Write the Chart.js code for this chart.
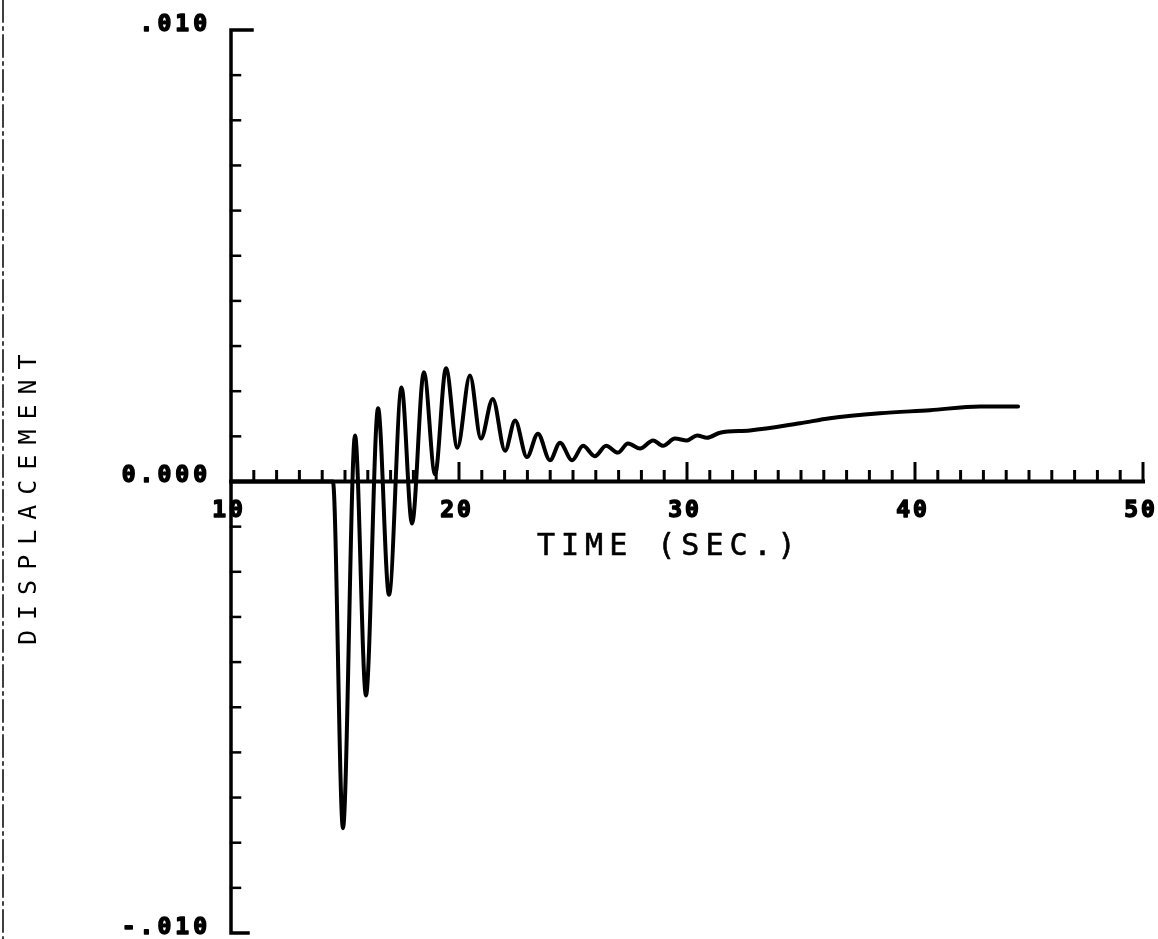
<!DOCTYPE html>
<html>
<head>
<meta charset="utf-8">
<script src="https://cdn.jsdelivr.net/npm/chart.js@4"></script>
<style>
    html, body { margin: 0; padding: 0; background: #fff; }
    #wrap { width: 1158px; height: 939px; }
</style>
</head>
<body>
<div id="wrap"><canvas id="dispChart" width="1158" height="939"></canvas></div>
<script>
// time (sec) and displacement
const timeValues = [
    10, 14.47, 14.91, 15.44, 15.92, 16.45, 16.93, 17.48, 17.94, 18.46,
    18.95, 19.43, 19.93, 20.48, 20.96, 21.48, 22.02, 22.46, 22.98, 23.46,
    23.99, 24.43, 24.96, 25.44, 25.96, 26.45, 26.97, 27.41, 27.94, 28.51,
    28.95, 29.47, 30.0, 30.44, 30.88, 31.45, 32.76, 34.96, 36.27, 38.46,
    40.66, 42.85, 44.52
];
const displacementValues = [
    0, 0, -0.00768, 0.00102, -0.00474, 0.00162, -0.00251, 0.00208, -0.00093, 0.00242,
    0.00016, 0.00251, 0.00075, 0.00235, 0.00095, 0.00183, 0.00068, 0.00135, 0.00054, 0.00106,
    0.00047, 0.00086, 0.00047, 0.00079, 0.00056, 0.00079, 0.00064, 0.00084, 0.00073, 0.00091,
    0.00079, 0.00095, 0.00091, 0.00102, 0.00097, 0.00108, 0.00113, 0.00129, 0.00140, 0.00151,
    0.00158, 0.00166, 0.00166
];

// axis labels
const xTickValues = [10, 20, 30, 40, 50];
const xTickLabels = ['10', '20', '30', '40', '50'];
const yTickValues = [0.01, 0, -0.01];
const yTickLabels = ['.010', '0.000', '-.010'];

const xMin = 10, xMax = 50, xMinorStep = 1;
const yMin = -0.01, yMax = 0.01, yMinorStep = 0.001;

// text with a thin outline so it looks like pen strokes
function penText(ctx, text, x, y, outline) {
    ctx.fillText(text, x, y);
    if (outline) {
        ctx.lineWidth = outline;
        ctx.strokeText(text, x, y);
    }
}

// plotter-style axes drawn from the chart's own scales
const plotterAxes = {
    id: 'plotterAxes',
    beforeDatasetsDraw(chart) {
        const ctx = chart.ctx;
        const xs = chart.scales.x;
        const ys = chart.scales.y;
        const x0 = xs.getPixelForValue(xMin);
        const x1 = xs.getPixelForValue(xMax);
        const yTop = ys.getPixelForValue(yMax);
        const yBot = ys.getPixelForValue(yMin);
        const yZero = ys.getPixelForValue(0);

        ctx.save();
        ctx.strokeStyle = '#000';
        ctx.lineCap = 'square';

        // scan border on the left edge
        ctx.lineWidth = 1.5;
        ctx.setLineDash([22, 5, 3, 5]);
        ctx.beginPath();
        ctx.moveTo(3, 0);
        ctx.lineTo(3, 939);
        ctx.stroke();
        ctx.setLineDash([]);

        // y axis with end caps
        ctx.lineWidth = 3.5;
        ctx.beginPath();
        ctx.moveTo(x0 + 21, yTop);
        ctx.lineTo(x0, yTop);
        ctx.lineTo(x0, yBot);
        ctx.lineTo(x0 + 17, yBot);
        ctx.stroke();

        // y ticks pointing right
        ctx.lineWidth = 2.5;
        const nY = Math.round((yMax - yMin) / yMinorStep);
        for (let i = 1; i < nY; i++) {
            const py = ys.getPixelForValue(yMin + i * yMinorStep);
            ctx.beginPath();
            ctx.moveTo(x0, py);
            ctx.lineTo(x0 + 9, py);
            ctx.stroke();
        }

        // x axis through zero
        ctx.lineWidth = 4;
        ctx.beginPath();
        ctx.moveTo(x0, yZero);
        ctx.lineTo(x1, yZero);
        ctx.stroke();

        // x ticks pointing up
        ctx.lineWidth = 3;
        const nX = Math.round((xMax - xMin) / xMinorStep);
        for (let i = 1; i <= nX; i++) {
            const v = xMin + i * xMinorStep;
            const px = xs.getPixelForValue(v);
            const len = (v % 10 === 0) ? 18 : 10;
            ctx.beginPath();
            ctx.moveTo(px, yZero);
            ctx.lineTo(px, yZero - len);
            ctx.stroke();
        }

        // tick labels
        ctx.fillStyle = '#000';
        ctx.lineJoin = 'round';
        ctx.font = 'bold 23px "DejaVu Sans Mono"';
        ctx.letterSpacing = '4px';
        ctx.textBaseline = 'middle';
        ctx.textAlign = 'right';
        yTickValues.forEach((v, i) => {
            const py = ys.getPixelForValue(v);
            penText(ctx, yTickLabels[i], x0 - 20, py - 5, 1.5);
        });
        ctx.textAlign = 'center';
        ctx.letterSpacing = '3px';
        xTickValues.forEach((v, i) => {
            const px = xs.getPixelForValue(v);
            penText(ctx, xTickLabels[i], px - 2, yZero + 30, 1.5);
        });

        // axis titles
        ctx.letterSpacing = '6px';
        ctx.font = '30px "DejaVu Sans Mono"';
        ctx.textAlign = 'left';
        penText(ctx, 'TIME (SEC.)', 537, yZero + 66, 0.6);

        ctx.save();
        ctx.translate(29, 645);
        ctx.rotate(-Math.PI / 2);
        ctx.font = '25px "DejaVu Sans Mono"';
        ctx.letterSpacing = '10px';
        penText(ctx, 'DISPLACEMENT', 0, 0, 0);
        ctx.restore();

        ctx.restore();
    }
};

function initChart() {
    const ctx = document.getElementById('dispChart').getContext('2d');
    window.dispChart = new Chart(ctx, {
        type: 'line',
        data: {
            datasets: [{
                label: 'Displacement',
                data: timeValues.map((t, i) => ({ x: t, y: displacementValues[i] })),
                borderColor: '#000',
                borderWidth: 4,
                pointRadius: 0,
                fill: false,
                cubicInterpolationMode: 'monotone',
                borderJoinStyle: 'round',
                borderCapStyle: 'round',
                clip: false
            }]
        },
        options: {
            responsive: false,
            animation: false,
            layout: {
                padding: { left: 231, right: 15, top: 30, bottom: 6 }
            },
            plugins: {
                legend: { display: false },
                tooltip: { enabled: false }
            },
            scales: {
                x: { type: 'linear', min: xMin, max: xMax, display: false },
                y: { type: 'linear', min: yMin, max: yMax, display: false }
            }
        },
        plugins: [plotterAxes]
    });
}

document.addEventListener('DOMContentLoaded', initChart);
</script>
</body>
</html>
